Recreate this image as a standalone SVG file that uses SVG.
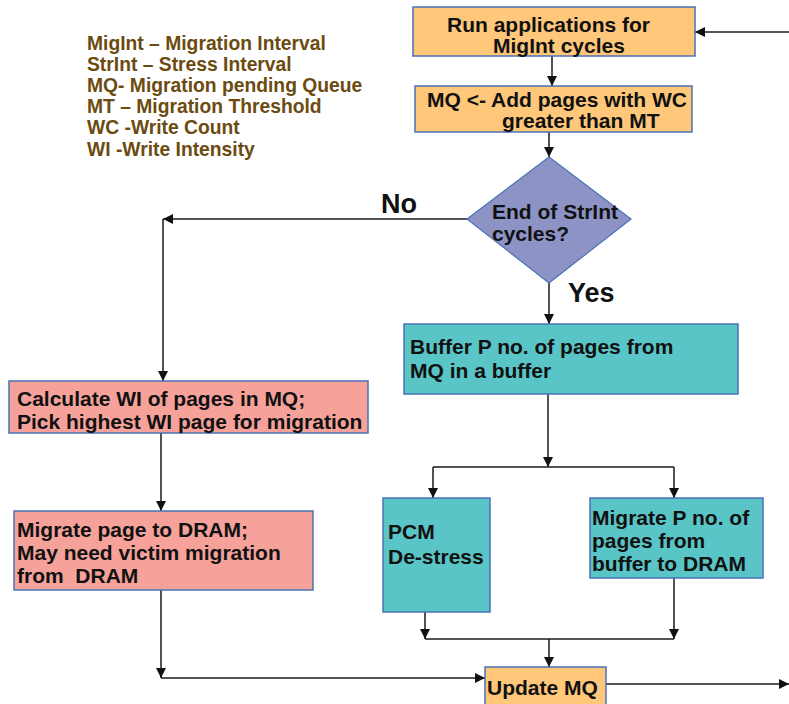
<svg xmlns="http://www.w3.org/2000/svg" width="789" height="704" viewBox="0 0 789 704">
  <defs>
    <marker id="arrow" viewBox="0 0 10 10" refX="10" refY="5" markerWidth="10" markerHeight="10" markerUnits="userSpaceOnUse" orient="auto">
      <path d="M0,0 L10,5 L0,10 Z" fill="#111"/>
    </marker>
    <style>
      .box { stroke: #4a72b5; stroke-width: 1.5; }
      .orange { fill: #fec779; }
      .pink { fill: #f6a29b; }
      .teal { fill: #5ac5c6; }
      .diamond { fill: #8e93c6; stroke: #4a72b5; stroke-width: 1.2; }
      .t { font-family: "Liberation Sans", Arial, sans-serif; font-weight: bold; fill: #111; font-size: 21px; }
      .legend { font-family: "Liberation Sans", Arial, sans-serif; font-weight: bold; fill: #6b4b10; font-size: 19.3px; }
      .lbl { font-family: "Liberation Sans", Arial, sans-serif; font-weight: bold; fill: #111; font-size: 27px; }
      .conn { fill: none; stroke: #1a1a1a; stroke-width: 1.5; }
    </style>
  </defs>
  <rect width="789" height="704" fill="#ffffff"/>

  <!-- abbreviations -->
  <g id="legend">
    <text class="legend" x="87" y="50">MigInt – Migration Interval</text>
    <text class="legend" x="87" y="71">StrInt – Stress Interval</text>
    <text class="legend" x="87" y="92">MQ- Migration pending Queue</text>
    <text class="legend" x="87" y="113">MT – Migration Threshold</text>
    <text class="legend" x="87" y="134">WC -Write Count</text>
    <text class="legend" x="87" y="156">WI -Write Intensity</text>
  </g>

  <!-- connectors -->
  <g id="connectors">
    <path class="conn" d="M789,32 L695,32" marker-end="url(#arrow)"/>
    <path class="conn" d="M552,56 L552,86" marker-end="url(#arrow)"/>
    <path class="conn" d="M549,132 L549,157" marker-end="url(#arrow)"/>
    <path class="conn" d="M467,219 L163,219" marker-end="url(#arrow)"/>
    <path class="conn" d="M163,219 L163,381" marker-end="url(#arrow)"/>
    <path class="conn" d="M549,283 L549,324" marker-end="url(#arrow)"/>
    <path class="conn" d="M161,433 L161,511" marker-end="url(#arrow)"/>
    <path class="conn" d="M548,394 L548,467" marker-end="url(#arrow)"/>
    <path class="conn" d="M433,467 L674,467"/>
    <path class="conn" d="M433,467 L433,498" marker-end="url(#arrow)"/>
    <path class="conn" d="M674,467 L674,498" marker-end="url(#arrow)"/>
    <path class="conn" d="M425,612 L425,639" marker-end="url(#arrow)"/>
    <path class="conn" d="M674,578 L674,639" marker-end="url(#arrow)"/>
    <path class="conn" d="M425,639 L674,639"/>
    <path class="conn" d="M549,639 L549,667" marker-end="url(#arrow)"/>
    <path class="conn" d="M161,590 L161,678" marker-end="url(#arrow)"/>
    <path class="conn" d="M161,678 L485,678" marker-end="url(#arrow)"/>
    <path class="conn" d="M606,684 L789,684" marker-end="url(#arrow)"/>
  </g>

  <g id="run-apps">
    <rect class="box orange" x="413" y="7" width="282" height="49"/>
    <text class="t" x="447" y="32" font-size="20.5">Run applications for</text>
    <text class="t" x="493" y="53" font-size="20.5">MigInt cycles</text>
  </g>

  <g id="add-pages">
    <rect class="box orange" x="415" y="86" width="277" height="46"/>
    <text class="t" x="427" y="107">MQ &lt;- Add pages with WC</text>
    <text class="t" x="502" y="128">greater than MT</text>
  </g>

  <g id="decision">
    <polygon class="diamond" points="549,157 631,219 549,283 467,219"/>
    <text class="t" x="492" y="219" font-size="20.5">End of StrInt</text>
    <text class="t" x="492" y="241" font-size="20.5">cycles?</text>
  </g>

  <g id="label-no">
    <text class="lbl" x="381" y="213">No</text>
  </g>
  <g id="label-yes">
    <text class="lbl" x="568" y="302">Yes</text>
  </g>

  <g id="buffer">
    <rect class="box teal" x="404" y="324" width="334" height="70"/>
    <text class="t" x="410" y="354" font-size="22">Buffer P no. of pages from</text>
    <text class="t" x="410" y="378" font-size="22">MQ in a buffer</text>
  </g>

  <g id="calc-wi">
    <rect class="box pink" x="9" y="381" width="359" height="52"/>
    <text class="t" x="17" y="406">Calculate WI of pages in MQ;</text>
    <text class="t" x="17" y="429">Pick highest WI page for migration</text>
  </g>

  <g id="migrate-page">
    <rect class="box pink" x="14" y="511" width="299" height="79"/>
    <text class="t" x="17" y="537">Migrate page to DRAM;</text>
    <text class="t" x="17" y="560">May need victim migration</text>
    <text class="t" x="17" y="583" xml:space="preserve">from  DRAM</text>
  </g>

  <g id="pcm-destress">
    <rect class="box teal" x="383" y="498" width="107" height="114"/>
    <text class="t" x="388" y="539" font-size="22.5">PCM</text>
    <text class="t" x="388" y="564" font-size="22.5">De-stress</text>
  </g>

  <g id="migrate-p">
    <rect class="box teal" x="590" y="498" width="173" height="80"/>
    <text class="t" x="592" y="525">Migrate P no. of</text>
    <text class="t" x="592" y="548">pages from</text>
    <text class="t" x="592" y="571">buffer to DRAM</text>
  </g>

  <g id="update-mq">
    <rect class="box orange" x="485" y="667" width="121" height="45"/>
    <text class="t" x="487" y="695" font-size="22.5">Update MQ</text>
  </g>
</svg>
